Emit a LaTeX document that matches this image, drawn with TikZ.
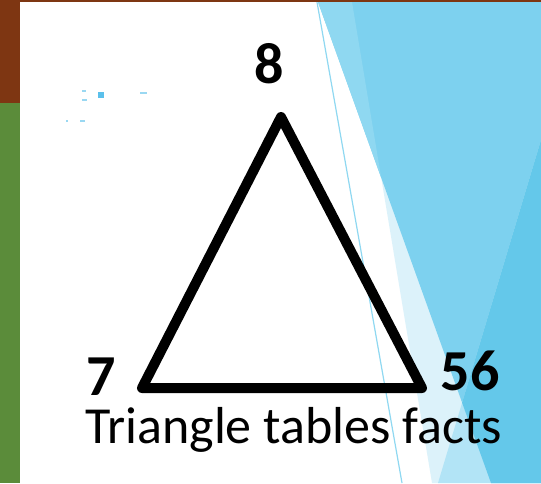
\documentclass[tikz,border=0pt]{standalone}
\usepackage{fontspec}
\setmainfont{Carlito}
\definecolor{brownbar}{HTML}{7E3612}
\definecolor{greenbar}{HTML}{5B8C3A}
\definecolor{vlight}{HTML}{DCF2FA}
\definecolor{lightA}{HTML}{8FD8F1}
\definecolor{medblue}{HTML}{7DD1EF}
\definecolor{darkblue}{HTML}{64C8EA}
\definecolor{paleblue}{HTML}{B2E4F6}
\definecolor{speck}{HTML}{5BC0EB}
\definecolor{speckl}{HTML}{9AD8F2}
\tikzset{
  numlabel/.style={inner sep=0pt, anchor=base, font=\fontsize{58}{58}\selectfont\bfseries},
  caption/.style={inner sep=0pt, anchor=base west, font=\fontsize{52}{52}\selectfont},
  triline/.style={line width=10pt, line join=round, draw=black}
}
\begin{document}
\begin{tikzpicture}[x=1pt,y=-1pt]
\useasboundingbox (0,0) rectangle (541,483);
\fill[white] (0,0) rectangle (541,483);
% facet shapes on the right
\fill[vlight] (352,2) -- (541,2) -- (541,483) -- (432,483) -- cycle;
\fill[medblue] (318,2) -- (541,2) -- (541,483) -- (491,483) -- cycle;
\fill[lightA] (318,2) -- (352,2) -- (381.2,177.8) -- cycle;
\fill[paleblue] (541,140) -- (541,483) -- (438,483) -- cycle;
\fill[darkblue] (541,140) -- (541,483) -- (491,483) -- (462.1,402.7) -- cycle;
% thin line
\draw[lightA, line width=1.2pt] (317,2) -- (402,483);
% left strip and top bar
\fill[brownbar] (0,0) rectangle (20,103);
\fill[greenbar] (0,103) rectangle (20,483);
\fill[brownbar] (0,0) rectangle (541,2);
% specks
\fill[speck] (98,92) rectangle (104,98);
\fill[speckl] (140,91.5) rectangle (147,93.5);
\fill[speckl] (82,90) rectangle (86,92);
\fill[speckl] (82,99) rectangle (87,100.5);
\fill[speckl] (66,120) rectangle (68,122);
\fill[speckl] (80,120) rectangle (85,121.5);
% triangle
\coordinate (top) at (281,117);
\coordinate (bl) at (142,388);
\coordinate (br) at (422,388);
\draw[triline] (top) -- (br) -- (bl) -- cycle;
% labels
\node[numlabel] (n8) at (269.5,83) {8};
\node[numlabel] (n7) at (101.5,395) {7};
\node[numlabel] (n56) at (470,390) {56};
\node[caption] (cap) at (85,443) {Triangle tables facts};
\end{tikzpicture}
\end{document}
